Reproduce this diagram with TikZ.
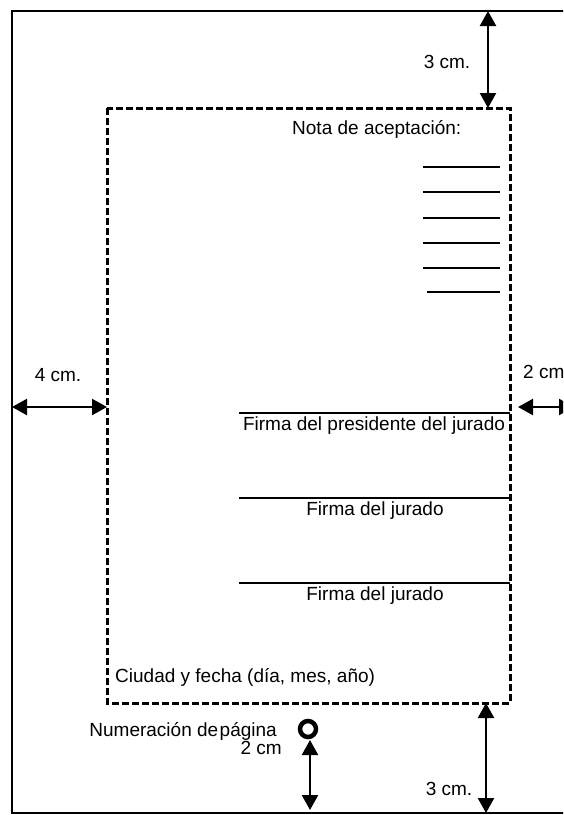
\documentclass[tikz,border=0pt]{standalone}
\usepackage{fontspec}
\setmainfont{Liberation Sans}
\usetikzlibrary{arrows.meta}
\begin{document}
\begin{tikzpicture}[x=1pt,y=-1pt,
  lbl/.style={font=\fontsize{19}{22}\selectfont, inner sep=0pt},
  dim/.style={line width=2.3pt, {Triangle[length=15pt,width=16pt]}-{Triangle[length=15pt,width=16pt]}},
  page/.style={line width=1.7pt},
  marginbox/.style={line width=3pt, dash pattern=on 7pt off 3pt},
  sigline/.style={line width=1.5pt},
  shortline/.style={line width=1.1pt},
]
\useasboundingbox (0,0) rectangle (563,815);
\clip (0,0) rectangle (563,815);
% page
\coordinate (pTL) at (12,11);
\coordinate (pTR) at (570,11);
\coordinate (pBL) at (12,813);
\coordinate (pBR) at (570,813);
\draw[page] (pTR) -- (pTL) -- (pBL) -- (pBR);
% margin box
\coordinate (mTL) at (107,108);
\coordinate (mBR) at (510,703);
\draw[marginbox] (mTL) rectangle (mBR);
% dimension arrows
\coordinate (a1t) at (488,11);
\coordinate (a1b) at (488,108);
\draw[dim] (a1t) -- (a1b);
\coordinate (a2l) at (12,407);
\coordinate (a2r) at (107,407);
\draw[dim] (a2l) -- (a2r);
\coordinate (a3l) at (518,407);
\coordinate (a3r) at (574,407);
\draw[dim] (a3l) -- (a3r);
\coordinate (a4t) at (486,703);
\coordinate (a4b) at (486,813);
\draw[dim] (a4t) -- (a4b);
\coordinate (a5t) at (310,740);
\coordinate (a5b) at (310,810);
\draw[dim] (a5t) -- (a5b);
% page number circle
\node[circle, draw, line width=4.5pt, minimum size=16pt, inner sep=0pt] (pgnum) at (308,729) {};
% acceptance lines
\foreach \i/\y/\xl in {1/167/423,2/192/423,3/218/423,4/243/423,5/268/423,6/292/427}{
  \coordinate (sl\i a) at (\xl,\y);
  \coordinate (sl\i b) at (500,\y);
  \draw[shortline] (sl\i a) -- (sl\i b);
}
% signature lines
\foreach \i/\y in {1/413,2/498,3/583}{
  \coordinate (sg\i a) at (239,\y);
  \coordinate (sg\i b) at (510,\y);
  \draw[sigline] (sg\i a) -- (sg\i b);
}
% texts
\node[lbl, anchor=west] (nota) at (292,129) {Nota de aceptación:};
\node[lbl] (f1) at (374,426) {Firma del presidente del jurado};
\node[lbl] (f2) at (375,511) {Firma del jurado};
\node[lbl] (f3) at (375,596) {Firma del jurado};
\node[lbl, anchor=west] (ciudad) at (115,677) {Ciudad y fecha (día, mes, año)};
\node[lbl, anchor=east] (numer) at (277,731) {Numeración de\hspace{-0.2em} página};
\node[lbl, anchor=east] (dos) at (282,748) {2 cm};
\node[lbl] (t1) at (447,62) {3 cm.};
\node[lbl] (t2) at (449,789) {3 cm.};
\node[lbl] (t3) at (58,375) {4 cm.};
\node[lbl, anchor=west] (t4) at (523,372) {2 cm};
\end{tikzpicture}
\end{document}
